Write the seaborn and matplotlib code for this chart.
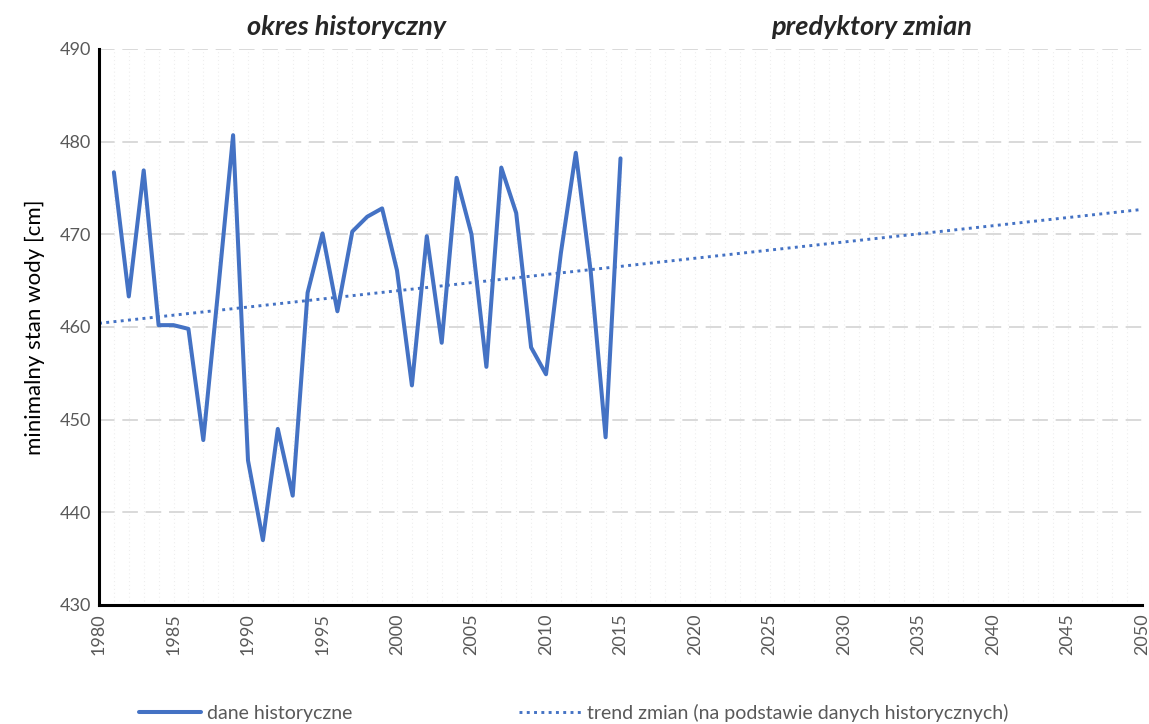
import numpy as np
import pandas as pd
import seaborn as sns
import matplotlib.pyplot as plt
from matplotlib.ticker import MultipleLocator

# minimum water level, historical period 1981-2015
years = list(range(1981, 2016))
level = [476.7, 463.3, 476.9, 460.2, 460.2, 459.8, 447.8, 464.0, 480.7, 445.6,
         437.0, 449.0, 441.8, 463.7, 470.1, 461.7, 470.3, 471.9, 472.8, 466.1,
         453.7, 469.8, 458.3, 476.1, 470.0, 455.7, 477.2, 472.3, 457.8, 454.9,
         468.0, 478.8, 466.0, 448.1, 478.2]
trend_years = [1980, 2050]

df = pd.DataFrame({'rok': years, 'stan': level})
coef = np.polyfit(df['rok'], df['stan'], 1)
trend = pd.DataFrame({'rok': trend_years, 'stan': np.polyval(coef, trend_years)})

sns.set_style('white')
plt.rcParams['font.family'] = ['Lato', 'DejaVu Sans']

blue = '#4472C4'
grey_txt = '#595959'

fig = plt.figure(figsize=(11.49, 7.24), dpi=100)
ax = fig.add_axes([99 / 1149, 1 - 605 / 724, (1142 - 99) / 1149, (605 - 49) / 724])

sns.lineplot(data=df, x='rok', y='stan', ax=ax, color=blue, linewidth=2.9,
             label='dane historyczne')
sns.lineplot(data=trend, x='rok', y='stan', ax=ax, color=blue, linewidth=2.1,
             linestyle=(0, (1, 1.5)), label='trend zmian (na podstawie danych historycznych)')

ax.set_xlim(1980, 2050)
ax.set_ylim(430, 490)
ax.xaxis.set_major_locator(MultipleLocator(5))
ax.xaxis.set_minor_locator(MultipleLocator(1))
ax.yaxis.set_major_locator(MultipleLocator(10))
ax.grid(axis='y', which='major', color='#d9d9d9', linewidth=1.4, linestyle=(0, (8, 4)))
ax.grid(axis='x', which='both', color='#eeeeee', linewidth=0.8, linestyle=(0, (1, 2.5)))
ax.set_axisbelow(True)

for s in ['top', 'right']:
    ax.spines[s].set_visible(False)
for s in ['left', 'bottom']:
    ax.spines[s].set_color('black')
    ax.spines[s].set_linewidth(2.2)

ax.tick_params(axis='both', which='both', length=0, labelsize=13, labelcolor=grey_txt, pad=6)
ax.tick_params(axis='x', labelrotation=90)
ax.set_xlabel('')
ax.set_ylabel('minimalny stan wody [cm]', fontsize=16, color='black', labelpad=10)

fig.text(347 / 1149, 1 - 27 / 724, 'okres historyczny', ha='center', va='center',
         fontsize=19.5, fontweight='bold', fontstyle='italic')
fig.text(871 / 1149, 1 - 27 / 724, 'predyktory zmian', ha='center', va='center',
         fontsize=19.5, fontweight='bold', fontstyle='italic')

ax.get_legend().remove()
h, l = ax.get_legend_handles_labels()
fig.legend(h, l, loc='center left', bbox_to_anchor=(121 / 1149, 1 - 713 / 724), ncol=2,
           frameon=False, fontsize=14, handlelength=3.2, handletextpad=0.3,
           columnspacing=8.6, labelcolor=grey_txt)

fig.savefig('out.png', dpi=100)
